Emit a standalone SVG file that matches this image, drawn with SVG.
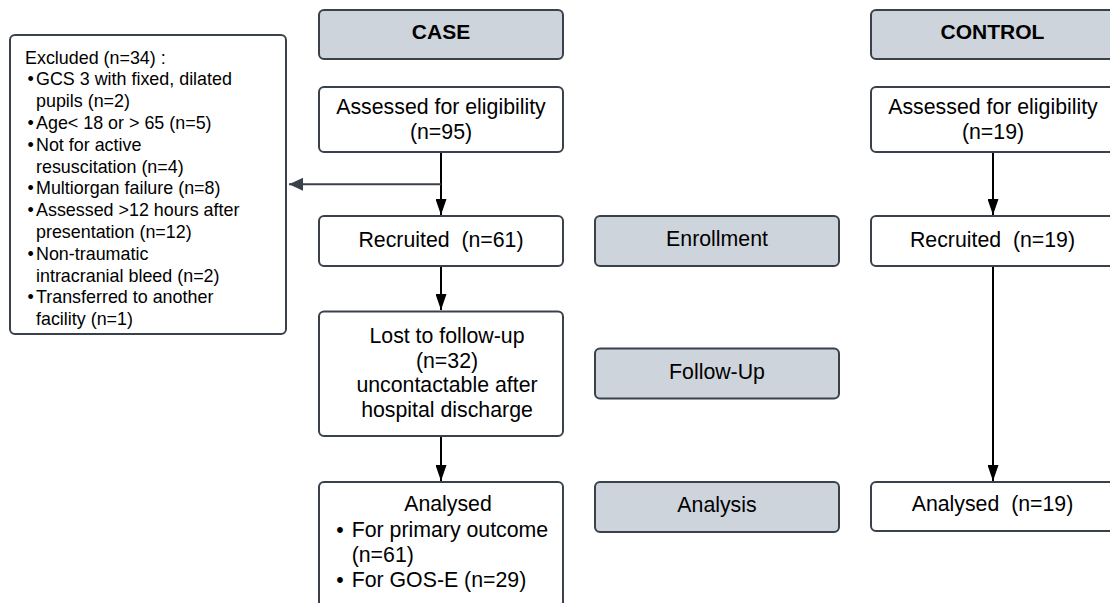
<svg xmlns="http://www.w3.org/2000/svg" width="1110" height="603" viewBox="0 0 1110 603">
<defs>
<style>
.box{fill:#ffffff;stroke:#3a414a;stroke-width:2}
.hdr{fill:#ced4dc;stroke:#3a414a;stroke-width:2}
text{font-family:"Liberation Sans",Arial,sans-serif;fill:#000}
.t{font-size:21.3px;text-anchor:middle}
.b{font-size:21px;font-weight:bold;text-anchor:middle}
.l{font-size:21.3px}
.s{font-size:17.9px}
.blk{stroke:#000;stroke-width:2;fill:none}
.gry{stroke:#3a414a;stroke-width:2;fill:none}
</style>
<marker id="ab" markerWidth="16" markerHeight="11" refX="16" refY="5.5" orient="auto" markerUnits="userSpaceOnUse" viewBox="0 0 16 11">
<path d="M0,0 L16,5.5 L0,11 z" fill="#000"/>
</marker>
<marker id="ag" markerWidth="14" markerHeight="13" refX="14" refY="6.5" orient="auto" markerUnits="userSpaceOnUse" viewBox="0 0 14 13">
<path d="M0,0 L14,6.5 L0,13 z" fill="#3a414a"/>
</marker>
</defs>
<rect width="1110" height="603" fill="#ffffff"/>

<g id="connectors">
<line class="blk" x1="441" y1="153" x2="441" y2="215" marker-end="url(#ab)"/>
<line class="gry" x1="441" y1="184.3" x2="289" y2="184.3" marker-end="url(#ag)"/>
<line class="blk" x1="441" y1="267" x2="441" y2="310" marker-end="url(#ab)"/>
<line class="blk" x1="441" y1="437" x2="441" y2="481" marker-end="url(#ab)"/>
<line class="blk" x1="993" y1="153" x2="993" y2="215" marker-end="url(#ab)"/>
<line class="blk" x1="993" y1="267" x2="993" y2="481" marker-end="url(#ab)"/>
</g>

<g id="excluded">
<rect class="box" x="10" y="35" width="276" height="299" rx="5"/>
<text class="s" x="25" y="63.5">Excluded (n=34) :</text>
<text class="s" x="27.5" y="85.3">•</text><text class="s" x="36" y="85.3">GCS 3 with fixed, dilated</text>
<text class="s" x="36" y="107.1">pupils (n=2)</text>
<text class="s" x="27.5" y="128.9">•</text><text class="s" x="36" y="128.9">Age&lt; 18 or &gt; 65 (n=5)</text>
<text class="s" x="27.5" y="150.7">•</text><text class="s" x="36" y="150.7">Not for active</text>
<text class="s" x="36" y="172.5">resuscitation (n=4)</text>
<text class="s" x="27.5" y="194.3">•</text><text class="s" x="36" y="194.3">Multiorgan failure (n=8)</text>
<text class="s" x="27.5" y="216.1">•</text><text class="s" x="36" y="216.1">Assessed &gt;12 hours after</text>
<text class="s" x="36" y="237.9">presentation (n=12)</text>
<text class="s" x="27.5" y="259.7">•</text><text class="s" x="36" y="259.7">Non-traumatic</text>
<text class="s" x="36" y="281.5">intracranial bleed (n=2)</text>
<text class="s" x="27.5" y="303.3">•</text><text class="s" x="36" y="303.3">Transferred to another</text>
<text class="s" x="36" y="325.1">facility (n=1)</text>
</g>

<g id="case-header">
<rect class="hdr" x="319" y="10" width="244" height="49" rx="5"/>
<text class="b" x="441" y="39">CASE</text>
</g>
<g id="case-assessed">
<rect class="box" x="319" y="87" width="244" height="65" rx="5"/>
<text class="t" x="441" y="114">Assessed for eligibility</text>
<text class="t" x="441" y="139">(n=95)</text>
</g>
<g id="case-recruited">
<rect class="box" x="319" y="216" width="244" height="50" rx="5"/>
<text class="t" x="441" y="247" xml:space="preserve">Recruited  (n=61)</text>
</g>
<g id="case-lost">
<rect class="box" x="319" y="311.5" width="244" height="124.5" rx="5"/>
<text class="t" x="447" y="343">Lost to follow-up</text>
<text class="t" x="447" y="367.5">(n=32)</text>
<text class="t" x="447" y="392">uncontactable after</text>
<text class="t" x="447" y="416.5">hospital discharge</text>
</g>
<g id="case-analysed">
<rect class="box" x="319" y="482" width="244" height="125" rx="5"/>
<text class="t" x="448" y="510.5">Analysed</text>
<text class="l" x="336.3" y="536.5">•</text><text class="l" x="351.7" y="536.5">For primary outcome</text>
<text class="l" x="351.7" y="561.5">(n=61)</text>
<text class="l" x="336.3" y="586.5">•</text><text class="l" x="351.7" y="586.5">For GOS-E (n=29)</text>
</g>

<g id="enrollment">
<rect class="hdr" x="595" y="216" width="244" height="50" rx="5"/>
<text class="t" x="717" y="246">Enrollment</text>
</g>
<g id="follow-up">
<rect class="hdr" x="595" y="348.5" width="244" height="50" rx="5"/>
<text class="t" x="717" y="378.5">Follow-Up</text>
</g>
<g id="analysis">
<rect class="hdr" x="595" y="482" width="244" height="50" rx="5"/>
<text class="t" x="717" y="512">Analysis</text>
</g>

<g id="control-header">
<rect class="hdr" x="871" y="10" width="250" height="49" rx="5"/>
<text class="b" x="992.5" y="39">CONTROL</text>
</g>
<g id="control-assessed">
<rect class="box" x="871" y="87" width="250" height="65" rx="5"/>
<text class="t" x="993" y="114">Assessed for eligibility</text>
<text class="t" x="993" y="139">(n=19)</text>
</g>
<g id="control-recruited">
<rect class="box" x="871" y="216" width="250" height="50" rx="5"/>
<text class="t" x="992.5" y="247" xml:space="preserve">Recruited  (n=19)</text>
</g>
<g id="control-analysed">
<rect class="box" x="871" y="482" width="250" height="49" rx="5"/>
<text class="t" x="992.5" y="511" xml:space="preserve">Analysed  (n=19)</text>
</g>
</svg>
